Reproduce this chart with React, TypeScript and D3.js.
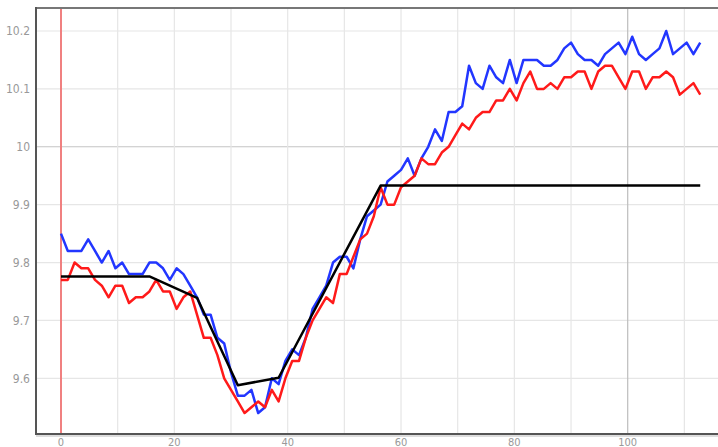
import React from "react";
import * as d3 from "d3";

const STEP = 1.2;

const blueValues = [
  9.85, 9.82, 9.82, 9.82, 9.84, 9.82, 9.80, 9.82, 9.79, 9.80,
  9.78, 9.78, 9.78, 9.80, 9.80, 9.79, 9.77, 9.79, 9.78, 9.76,
  9.74, 9.71, 9.71, 9.67, 9.66, 9.61, 9.57, 9.57, 9.58, 9.54,
  9.55, 9.60, 9.59, 9.63, 9.65, 9.64, 9.67, 9.72, 9.74, 9.76,
  9.80, 9.81, 9.81, 9.79, 9.84, 9.88, 9.89, 9.90, 9.94, 9.95,
  9.96, 9.98, 9.95, 9.98, 10.00, 10.03, 10.01, 10.06, 10.06, 10.07,
  10.14, 10.11, 10.10, 10.14, 10.12, 10.11, 10.15, 10.11, 10.15, 10.15,
  10.15, 10.14, 10.14, 10.15, 10.17, 10.18, 10.16, 10.15, 10.15, 10.14,
  10.16, 10.17, 10.18, 10.16, 10.19, 10.16, 10.15, 10.16, 10.17, 10.20,
  10.16, 10.17, 10.18, 10.16, 10.18,
];

const redValues = [
  9.77, 9.77, 9.80, 9.79, 9.79, 9.77, 9.76, 9.74, 9.76, 9.76,
  9.73, 9.74, 9.74, 9.75, 9.77, 9.75, 9.75, 9.72, 9.74, 9.75,
  9.71, 9.67, 9.67, 9.64, 9.60, 9.58, 9.56, 9.54, 9.55, 9.56,
  9.55, 9.58, 9.56, 9.60, 9.63, 9.63, 9.67, 9.70, 9.72, 9.74,
  9.73, 9.78, 9.78, 9.81, 9.84, 9.85, 9.88, 9.93, 9.90, 9.90,
  9.93, 9.94, 9.95, 9.98, 9.97, 9.97, 9.99, 10.00, 10.02, 10.04,
  10.03, 10.05, 10.06, 10.06, 10.08, 10.08, 10.10, 10.08, 10.11, 10.13,
  10.10, 10.10, 10.11, 10.10, 10.12, 10.12, 10.13, 10.13, 10.10, 10.13,
  10.14, 10.14, 10.12, 10.10, 10.13, 10.13, 10.10, 10.12, 10.12, 10.13,
  10.12, 10.09, 10.10, 10.11, 10.09,
];

const fitX = [0, 15.6, 24, 31.2, 38.4, 56.4, 112.8];
const fitY = [9.776, 9.776, 9.739, 9.588, 9.601, 9.933, 9.933];

const xTickLabels = [0, 20, 40, 60, 80, 100];
const xGrid = [10, 20, 30, 40, 50, 60, 70, 80, 90, 100, 110];
const yTicks = [9.6, 9.7, 9.8, 9.9, 10, 10.1, 10.2];

const W = 718;
const H = 447;
const LEFT = 36;
const TOP = 8;
const BOTTOM = 434;

export default function App() {
  const x = d3.scaleLinear().domain([0, 100]).range([61, 627.7]);
  const y = d3.scaleLinear().domain([9.6, 10.2]).range([378.3, 31]);

  const line = d3
    .line<[number, number]>()
    .x((d) => x(d[0]))
    .y((d) => y(d[1]));

  const bluePts: [number, number][] = blueValues.map((v, i) => [i * STEP, v]);
  const redPts: [number, number][] = redValues.map((v, i) => [i * STEP, v]);
  const fitPts: [number, number][] = fitX.map((v, i) => [v, fitY[i]]);

  const font = "'Liberation Sans Narrow', 'DejaVu Sans Condensed', 'Arial Narrow', 'Liberation Sans', sans-serif";

  return (
    <svg
      width={W}
      height={H}
      style={{ position: "absolute", left: 0, top: 0, background: "#fff" }}
    >
      {yTicks.map((t) => (
        <line
          key={"gy" + t}
          x1={LEFT}
          x2={W}
          y1={y(t)}
          y2={y(t)}
          stroke={t === 10 ? "#c4c4c4" : "#e6e6e6"}
          strokeWidth={1.2}
        />
      ))}
      {xGrid.map((t) => (
        <line
          key={"gx" + t}
          x1={x(t)}
          x2={x(t)}
          y1={TOP}
          y2={BOTTOM}
          stroke={t === 100 ? "#bdbdbd" : "#e6e6e6"}
          strokeWidth={1.2}
        />
      ))}
      <line x1={x(0)} x2={x(0)} y1={TOP} y2={BOTTOM} stroke="#f08080" strokeWidth={2} />

      <line x1={LEFT} x2={W} y1={TOP} y2={TOP} stroke="#777" strokeWidth={2} />
      <line x1={LEFT} x2={W} y1={BOTTOM} y2={BOTTOM} stroke="#555" strokeWidth={2} />
      <line x1={LEFT} x2={W} y1={BOTTOM + 2} y2={BOTTOM + 2} stroke="#bbb" strokeWidth={1} />
      <line x1={LEFT} x2={LEFT} y1={TOP - 1} y2={BOTTOM + 1} stroke="#555" strokeWidth={2} />

      <path d={line(bluePts) || ""} fill="none" stroke="#2236ff" strokeWidth={2.5} strokeLinejoin="round" />
      <path d={line(redPts) || ""} fill="none" stroke="#ff1a1a" strokeWidth={2.5} strokeLinejoin="round" />
      <path d={line(fitPts) || ""} fill="none" stroke="#000" strokeWidth={2.5} strokeLinejoin="round" />

      {yTicks.map((t) => (
        <text
          key={"ly" + t}
          x={30}
          y={y(t)}
          dy="0.36em"
          textAnchor="end"
          fontFamily={font}
          fontSize={12}
          fill="#999"
        >
          {d3.format("~g")(t)}
        </text>
      ))}
      {xTickLabels.map((t) => (
        <text
          key={"lx" + t}
          x={x(t)}
          y={446}
          textAnchor="middle"
          fontFamily={font}
          fontSize={11}
          fill="#999"
        >
          {t}
        </text>
      ))}
    </svg>
  );
}
